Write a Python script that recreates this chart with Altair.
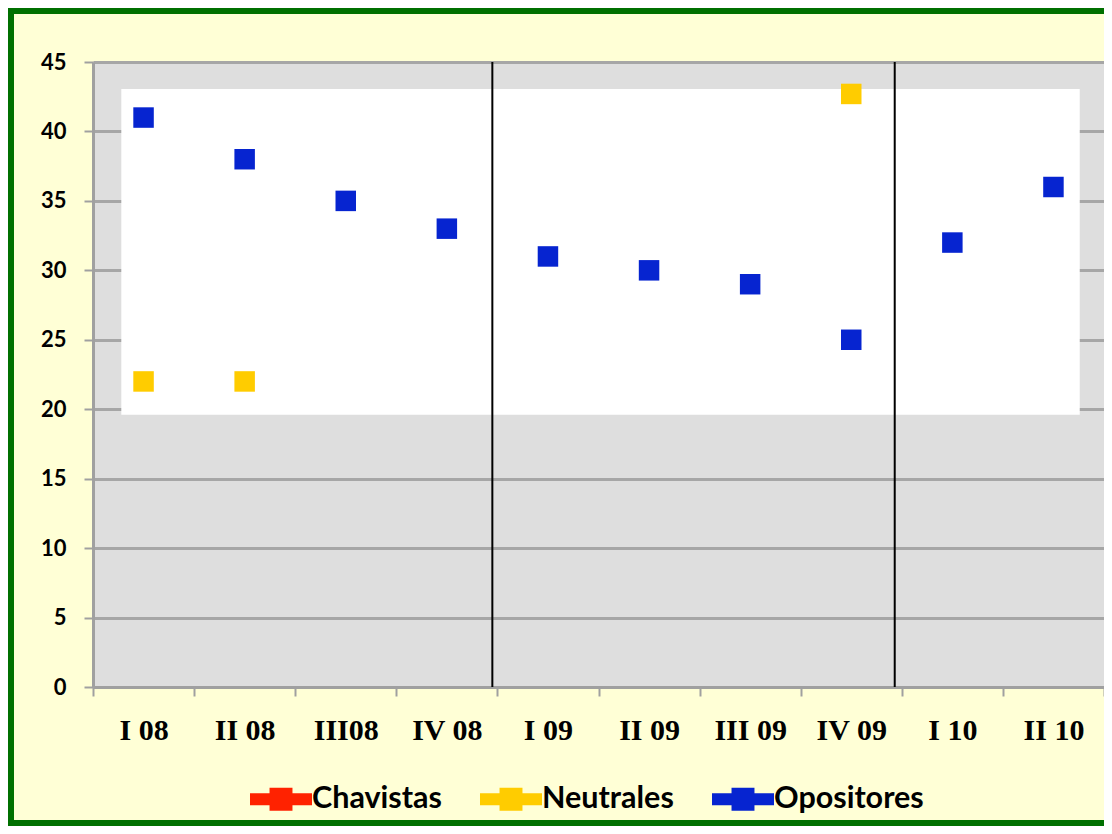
import altair as alt
import pandas as pd

quarters = ["I 08", "II 08", "III08", "IV 08", "I 09", "II 09", "III 09", "IV 09", "I 10", "II 10"]
series = ["Chavistas", "Neutrales", "Opositores"]
colors = ["#ff2200", "#ffcc00", "#0624d0"]
chavistas = [None] * 10
neutrales = [22, 22, None, None, None, None, None, 42.7, None, None]
opositores = [41, 38, 35, 33, 31, 30, 29, 25, 32, 36]

# decorative white overlay box (x in band units, y in data units)
overlay_x = [0.28, 9.76]
overlay_y = [19.6, 43.05]
# period separators (band units)
separators = [3.95, 7.93]

rows = []
for name, vals in zip(series, [chavistas, neutrales, opositores]):
    for q, v in zip(quarters, vals):
        if v is not None:
            rows.append({"quarter": q, "series": name, "value": v})
df = pd.DataFrame(rows)

W, H = 1011, 625
yscale = alt.Scale(domain=[0, 45], nice=False, zero=True)

sym = "M-1,-0.19 L1,-0.19 L1,0.19 L-1,0.19 Z M-0.37,-0.37 L0.37,-0.37 L0.37,0.37 L-0.37,0.37 Z"

green = "#007000"
base = alt.Chart(pd.DataFrame({"a": [0]}))
frame_left = base.mark_rule(color=green, strokeWidth=6).encode(
    x=alt.value(-82), y=alt.value(-54), y2=alt.value(H + 139))
frame_top = base.mark_rule(color=green, strokeWidth=6).encode(
    x=alt.value(-85), x2=alt.value(W), y=alt.value(-51))
frame_bottom = base.mark_rule(color=green, strokeWidth=6).encode(
    x=alt.value(-85), x2=alt.value(W), y=alt.value(H + 136))

overlay = alt.Chart(pd.DataFrame({"x0": [overlay_x[0]], "x1": [overlay_x[1]],
                                  "y0": [overlay_y[0]], "y1": [overlay_y[1]]})).mark_rect(
    color="white"
).encode(
    x=alt.X("x0:Q", scale=alt.Scale(domain=[0, 10], nice=False, zero=False), axis=None),
    x2="x1",
    y=alt.Y("y0:Q", scale=yscale),
    y2="y1",
)

seps = alt.Chart(pd.DataFrame({"x": separators})).mark_rule(color="black", strokeWidth=2).encode(
    x=alt.X("x:Q", scale=alt.Scale(domain=[0, 10], nice=False, zero=False), axis=None),
    y=alt.Y(datum=45, scale=yscale),
    y2=alt.Y2(datum=0),
)

points = alt.Chart(df).mark_square(size=420, opacity=1).encode(
    x=alt.X("quarter:N", sort=quarters,
            scale=alt.Scale(type="band", domain=quarters, paddingInner=0, paddingOuter=0),
            axis=alt.Axis(title=None, labelAngle=0, tickBand="extent", tickSize=9, tickWidth=2,
                          tickColor="#a0a0a0", domainColor="#a0a0a0", domainWidth=3,
                          labelFont="Liberation Serif", labelFontWeight="bold", labelFontSize=30,
                          labelColor="black", labelPadding=19, grid=False)),
    y=alt.Y("value:Q", scale=yscale,
            axis=alt.Axis(title=None, values=list(range(0, 50, 5)), tickSize=9, tickWidth=2,
                          tickColor="#a0a0a0", domainColor="#a0a0a0", domainWidth=3,
                          grid=True, gridColor="#a6a6a6", gridWidth=3,
                          labelFont="Lato", labelFontWeight="bold", labelFontSize=22,
                          labelColor="black", labelPadding=18)),
    color=alt.Color("series:N", scale=alt.Scale(domain=series, range=colors),
                    legend=alt.Legend(title=None, orient="none", legendX=157, legendY=706,
                                      direction="horizontal", symbolType=sym, symbolSize=3844,
                                      symbolStrokeWidth=0, labelFont="Lato", labelFontWeight="bold",
                                      labelFontSize=30.5, labelColor="black", labelOffset=0,
                                      columnPadding=38, labelLimit=300)),
)

chart = alt.layer(frame_left, frame_top, frame_bottom, overlay, seps, points).resolve_scale(
    x="independent"
).properties(
    width=W, height=H,
    autosize=alt.AutoSizeParams(type="none"),
    padding={"left": 85, "top": 54, "right": 0, "bottom": 139},
    background="#ffffd6",
).configure_view(fill="#dedede", stroke=None)

chart.save("out.html", embed_options={"renderer": "svg", "actions": False})
